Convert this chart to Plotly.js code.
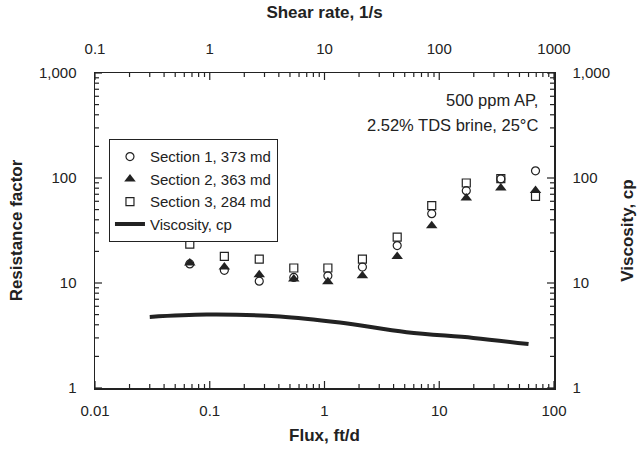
<!DOCTYPE html>
<html>
<head>
<meta charset="utf-8">
<script src="https://cdn.plot.ly/plotly-3.0.1.min.js"></script>
<style>
html,body{margin:0;padding:0;background:#fff;}
#chart{width:644px;height:449px;}
</style>
</head>
<body>
<div id="chart"></div>
<script>
// Flux, ft/d
const flux = [0.067, 0.134, 0.27, 0.54, 1.07, 2.14, 4.3, 8.6, 17.2, 34.4, 69];
// Resistance factors
const section1 = [15.2, 13.2, 10.4, 11.3, 11.7, 14.2, 22.7, 45.7, 75.7, 98, 117];
const section2 = [15.5, 14.2, 12.0, 10.9, 10.3, 11.7, 17.9, 35.1, 64.5, 80.3, 76.2];
const section3 = [23.5, 17.9, 16.9, 13.9, 13.9, 16.9, 27.4, 54.5, 89.6, 98.5, 66.8];
// Viscosity curve (vs shear rate, 1/s)
const shearRate = [0.30, 0.94, 4.1, 13.6, 52, 198, 600];
const viscosity = [4.75, 5.0, 4.8, 4.2, 3.4, 3.0, 2.62];

const seriesNames = ["Section 1, 373 md", "Section 2, 363 md", "Section 3, 284 md", "Viscosity, cp"];
const yTickVals = [1, 10, 100, 1000];
const yTickText = ["1", "10", "100", "1,000"];
const xTickVals = [0.01, 0.1, 1, 10, 100];
const xTickText = ["0.01", "0.1", "1", "10", "100"];
const x2TickVals = [0.1, 1, 10, 100, 1000];
const x2TickText = ["0.1", "1", "10", "100", "1000"];
const noteLines = ["500 ppm AP,", "2.52% TDS brine, 25°C"];

const FONT = "Arial, 'Liberation Sans', sans-serif";
const ink = "#222222";

// minor tick positions (2..9 within each decade)
function minorVals(majors) {
  const out = [];
  for (let i = 0; i < majors.length - 1; i++)
    for (let k = 2; k <= 9; k++) out.push(majors[i] * k);
  return out;
}

const traces = [
  {x: flux, y: section1, name: seriesNames[0], type: "scatter", mode: "markers",
   marker: {symbol: "circle-open", size: 8, color: ink, line: {width: 1.2, color: ink}}},
  {x: flux, y: section2, name: seriesNames[1], type: "scatter", mode: "markers",
   marker: {symbol: "triangle-up", size: 10, color: ink, line: {width: 0}}},
  {x: flux, y: section3, name: seriesNames[2], type: "scatter", mode: "markers",
   marker: {symbol: "square-open", size: 8, color: ink, line: {width: 1.2, color: ink}}},
  {x: shearRate, y: viscosity, name: seriesNames[3], type: "scatter", mode: "lines",
   xaxis: "x2", yaxis: "y2",
   line: {color: ink, width: 4, shape: "spline", smoothing: 1.0}}
];

function labelAxis(tv, tt, extra) {
  return Object.assign({
    type: "log", showgrid: false, zeroline: false, showline: true,
    linecolor: ink, linewidth: 1.5, ticks: "",
    tickmode: "array", tickvals: tv, ticktext: tt,
    tickfont: {family: FONT, size: 15, color: ink}
  }, extra);
}

// inside tick marks, placed through the axis scales (pixel lengths)
function xTicks(vals, len) {
  const s = [];
  vals.forEach(v => {
    [[0, len], [1, -len]].forEach(([anchor, l]) => s.push({
      type: "line", xref: "x", yref: "paper", x0: v, x1: v,
      ysizemode: "pixel", yanchor: anchor, y0: 0, y1: l,
      line: {color: ink, width: 1.2}, layer: "above"
    }));
  });
  return s;
}
function yTicks(vals, len) {
  const s = [];
  vals.forEach(v => {
    [[0, len], [1, -len]].forEach(([anchor, l]) => s.push({
      type: "line", yref: "y", xref: "paper", y0: v, y1: v,
      xsizemode: "pixel", xanchor: anchor, x0: 0, x1: l,
      line: {color: ink, width: 1.2}, layer: "above"
    }));
  });
  return s;
}

const shapes = [].concat(
  xTicks(xTickVals, 7), xTicks(minorVals(xTickVals), 4),
  yTicks(yTickVals, 7), yTicks(minorVals(yTickVals), 4)
);

const titleFont = {family: FONT, size: 17, color: ink};

const layout = {
  width: 644, height: 449,
  margin: {l: 95, r: 90, t: 73, b: 61, pad: 0},
  paper_bgcolor: "#fff", plot_bgcolor: "rgba(0,0,0,0)",
  font: {family: FONT, color: ink},
  showlegend: true,
  legend: {x: 0.03, y: 0.79, xanchor: "left", yanchor: "top",
           bordercolor: ink, borderwidth: 1.2, bgcolor: "#fff",
           font: {family: FONT, size: 15, color: ink},
           tracegroupgap: 0, itemwidth: 30},
  xaxis: labelAxis(xTickVals, xTickText, {
    range: [-2, 2], ticklabelstandoff: 8,
    title: {text: "<b>Flux, ft/d</b>", font: titleFont, standoff: 11}
  }),
  xaxis2: labelAxis(x2TickVals, x2TickText, {
    range: [-1, 3], overlaying: "x", side: "top", anchor: "y",
    ticklabelstandoff: 12,
    title: {text: "<b>Shear rate, 1/s</b>", font: titleFont, standoff: 16}
  }),
  yaxis: labelAxis(yTickVals, yTickText, {
    range: [0, 3], ticklabelstandoff: 14,
    title: {text: "<b>Resistance factor</b>", font: titleFont, standoff: 12}
  }),
  yaxis2: labelAxis(yTickVals, yTickText, {
    range: [0, 3], overlaying: "y", side: "right", anchor: "x",
    ticklabelstandoff: 14,
    title: {text: "<b>Viscosity, cp</b>", font: titleFont, standoff: 12}
  }),
  shapes: shapes,
  annotations: noteLines.map((t, i) => ({
    xref: "paper", yref: "paper", x: 0.97, y: [0.913, 0.835][i],
    xanchor: "right", yanchor: "middle", align: "right", showarrow: false,
    text: t, font: {family: FONT, size: 16.5, color: ink}
  }))
};

Plotly.newPlot("chart", traces, layout, {staticPlot: true, displayModeBar: false});
</script>
</body>
</html>
